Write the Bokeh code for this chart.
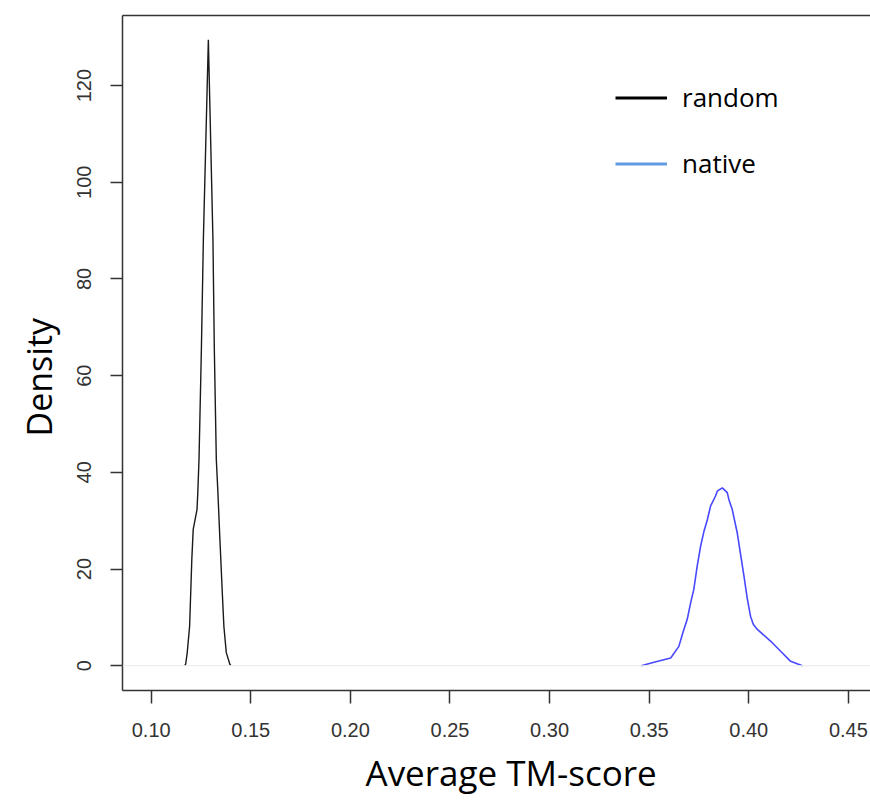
import math
import numpy as np
from bokeh.plotting import figure
from bokeh.models import (Range1d, FixedTicker, NumeralTickFormatter, LinearAxis,
                          Span, Legend, LegendItem, Title)
from bokeh.embed import file_html
from bokeh.resources import INLINE

# ---- data ----
random_x = [0.1168, 0.1173, 0.1181, 0.1193, 0.1204, 0.1211, 0.1230, 0.1234, 0.1240,
            0.1252, 0.1262, 0.1287, 0.1310, 0.1317, 0.1327, 0.1335, 0.1345, 0.1357,
            0.1365, 0.1377, 0.1395, 0.1400]
random_y = [0.0, 0.3, 2.7, 8.2, 22.0, 28.2, 32.3, 35.8, 42.6,
            65.4, 88.2, 129.5, 88.2, 65.4, 42.6, 35.8, 26.1, 15.1,
            8.1, 2.7, 0.3, 0.0]

native_x = [0.3460, 0.3524, 0.3608, 0.3649, 0.3669, 0.3691, 0.3708, 0.3724, 0.3741,
            0.3758, 0.3775, 0.3792, 0.3808, 0.3833, 0.3842, 0.3867, 0.3892, 0.3900,
            0.3917, 0.3942, 0.3959, 0.3976, 0.3992, 0.4009, 0.4023, 0.4043, 0.4109,
            0.4160, 0.4210, 0.4269]
native_y = [0.0, 0.7, 1.6, 4.0, 6.8, 9.6, 13.0, 15.8, 20.6,
            24.7, 27.8, 30.2, 33.0, 35.1, 36.1, 36.8, 35.8, 34.4,
            32.3, 27.5, 23.0, 18.5, 14.0, 10.2, 8.5, 7.5, 5.1,
            3.0, 0.9, 0.0]

x_ticks = [0.10, 0.15, 0.20, 0.25, 0.30, 0.35, 0.40, 0.45]
y_ticks = [0, 20, 40, 60, 80, 100, 120]
series_names = ["random", "native"]
x_title = "Average TM-score"
y_title = "Density"

AX = "#333333"

p = figure(width=870, height=802, output_backend="svg", toolbar_location=None,
           x_range=Range1d(0.0856, 0.4611), y_range=Range1d(-5.13, 134.5),
           min_border_left=122, min_border_right=0, min_border_top=15,
           min_border_bottom=111)
p.outline_line_color = None
p.grid.visible = False
p.background_fill_color = "white"
p.border_fill_color = "white"

# zero baseline
p.add_layout(Span(location=0, dimension="width", line_color="#e9e9e9", line_width=1))

p.line(random_x, random_y, line_color="#1a1a1a", line_width=1.4)
p.line(native_x, native_y, line_color="#4848ff", line_width=1.6)

# axes
xa = p.xaxis[0]
xa.ticker = FixedTicker(ticks=x_ticks)
xa.formatter = NumeralTickFormatter(format="0.00")
ya = p.yaxis[0]
ya.ticker = FixedTicker(ticks=y_ticks)
ya.major_label_orientation = "vertical"

for ax in (xa, ya):
    ax.axis_line_color = AX
    ax.axis_line_width = 1.5
    ax.major_tick_line_color = AX
    ax.major_tick_line_width = 1.5
    ax.major_tick_in = 0
    ax.minor_tick_line_color = None
    ax.major_label_text_font = "Liberation Sans"
    ax.major_label_text_font_size = "20px"
    ax.major_label_text_color = AX

xa.major_tick_out = 13
xa.major_label_standoff = 19
ya.major_tick_out = 12
ya.major_label_standoff = 19

top = LinearAxis(ticker=FixedTicker(ticks=[]), major_tick_out=0, major_tick_in=0,
                 minor_tick_out=0, minor_tick_in=0, major_label_text_font_size="0px",
                 axis_line_color=AX, axis_line_width=1.5)
p.add_layout(top, "above")

# axis titles, offset along the frame like the reference
p.add_layout(Title(text=y_title, align="left", offset=254, standoff=26,
                   text_font="Open Sans", text_font_size="34px",
                   text_font_style="normal", text_color="black"), "left")
p.add_layout(Title(text=x_title, align="left", offset=243, standoff=14,
                   text_font="Open Sans", text_font_size="35px",
                   text_font_style="normal", text_color="black"), "below")

# legend (dedicated legend-only renderers, as the key colours differ slightly)
leg_r = p.line(x=np.array([np.nan]), y=np.array([np.nan]), line_color="black", line_width=3)
leg_n = p.line(x=np.array([np.nan]), y=np.array([np.nan]), line_color="#629be0", line_width=3)
legend = Legend(items=[LegendItem(label=series_names[0], renderers=[leg_r]),
                       LegendItem(label=series_names[1], renderers=[leg_n])],
                location=(493, 509), orientation="vertical",
                glyph_width=52, glyph_height=35, label_standoff=15, spacing=30,
                padding=0, margin=0, border_line_color=None,
                background_fill_alpha=0, label_text_font="Open Sans",
                label_text_font_size="26px", label_text_color="black")
p.add_layout(legend)

open("out.html", "w").write(file_html(p, INLINE))
